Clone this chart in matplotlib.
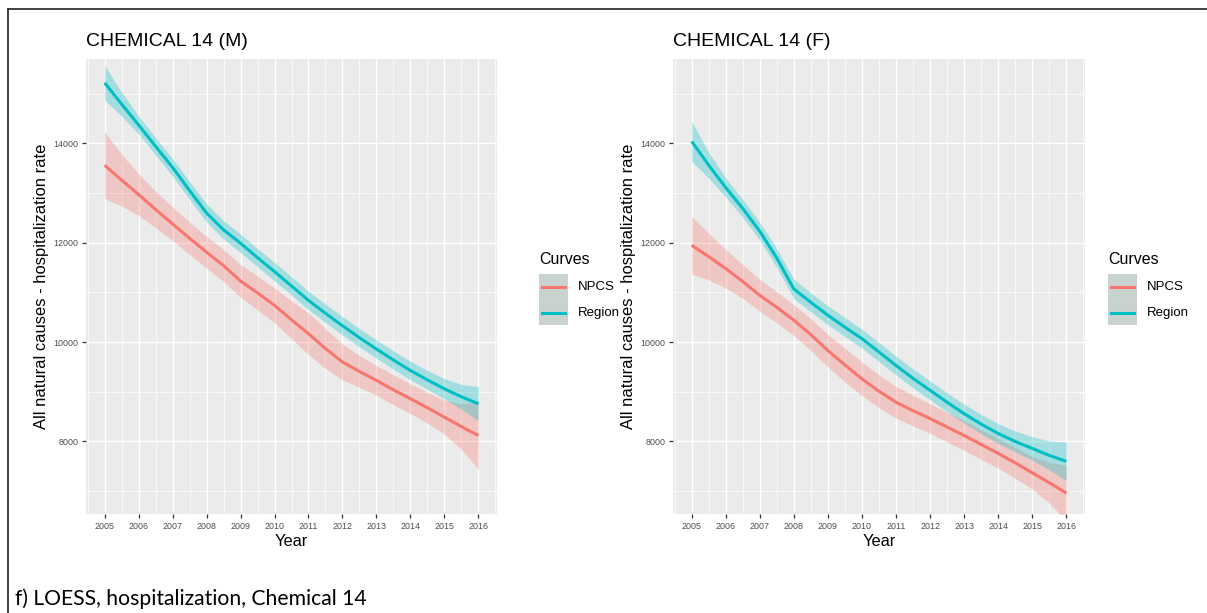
import numpy as np
import matplotlib
matplotlib.use('Agg')
import matplotlib.pyplot as plt
from matplotlib.patches import Rectangle
from matplotlib.lines import Line2D

plt.rcParams['font.family'] = ['Liberation Sans', 'DejaVu Sans']

# LOESS curves, half-year steps
years = [2005.0, 2005.5, 2006.0, 2006.5, 2007.0, 2007.5, 2008.0, 2008.5, 2009.0, 2009.5,
         2010.0, 2010.5, 2011.0, 2011.5, 2012.0, 2012.5, 2013.0, 2013.5, 2014.0, 2014.5,
         2015.0, 2015.5, 2016.0]
year_ticks = list(range(2005, 2017))

# males
m_region = [15220, 14790, 14370, 13940, 13515, 13050, 12600, 12260, 11990, 11700,
            11420, 11130, 10840, 10580, 10330, 10090, 9860, 9640, 9430, 9240,
            9060, 8900, 8760]
m_region_se = [350, 240, 180, 175, 175, 180, 185, 185, 185, 185,
               185, 185, 185, 185, 185, 185, 185, 185, 185, 190,
               205, 250, 340]
m_npcs = [13560, 13260, 12970, 12670, 12380, 12090, 11810, 11540, 11230, 10990,
          10740, 10450, 10170, 9870, 9600, 9410, 9230, 9040, 8860, 8680,
          8490, 8300, 8120]
m_npcs_se = [670, 520, 420, 370, 335, 325, 320, 320, 330, 340,
             350, 380, 420, 400, 360, 320, 300, 300, 300, 310,
             340, 460, 680]

# females
f_region = [14040, 13560, 13110, 12690, 12230, 11690, 11070, 10800, 10540, 10300,
            10070, 9800, 9530, 9270, 9030, 8790, 8560, 8350, 8160, 8000,
            7860, 7720, 7600]
f_region_se = [400, 260, 190, 180, 180, 190, 195, 190, 190, 190,
               190, 190, 190, 190, 190, 190, 190, 195, 200, 210,
               235, 290, 390]
f_npcs = [11950, 11720, 11480, 11220, 10940, 10700, 10440, 10150, 9830, 9540,
          9260, 9010, 8790, 8620, 8460, 8290, 8120, 7940, 7760, 7570,
          7370, 7170, 6960]
f_npcs_se = [580, 470, 390, 340, 320, 310, 310, 320, 330, 340,
             340, 330, 320, 310, 300, 300, 300, 300, 300, 310,
             330, 410, 560]

titles = ['CHEMICAL 14 (M)', 'CHEMICAL 14 (F)']
curve_names = ['NPCS', 'Region']
red = '#F8766D'
teal = '#00BFC4'

W, H = 1207, 613
fig = plt.figure(figsize=(W / 100, H / 100), dpi=100)


def fx(x):
    return x / W


def fy(y):
    return 1 - y / H


def panel(left_px, right_px, title, npcs, npcs_se, region, region_se):
    ax = fig.add_axes([fx(left_px), fy(514), (right_px - left_px) / W, (514 - 59) / H])
    ax.set_facecolor('#EBEBEB')
    for s in ax.spines.values():
        s.set_visible(False)
    x = np.array(years)
    for mid, se, col in [(npcs, npcs_se, red), (region, region_se, teal)]:
        mid = np.array(mid)
        se = np.array(se)
        ax.fill_between(x, mid - se, mid + se, color=col, alpha=0.3, lw=0, zorder=2)
    for mid, col in [(npcs, red), (region, teal)]:
        ax.plot(x, mid, color=col, lw=2.2, zorder=3, solid_capstyle='butt',
                solid_joinstyle='round')
    ax.set_xlim(2004.45, 2016.55)
    ax.set_ylim(6540, 15700)
    ax.set_xticks(year_ticks)
    ax.set_xticks([y + 0.5 for y in year_ticks[:-1]] + [2004.5, 2016.5], minor=True)
    ax.set_yticks([8000, 10000, 12000, 14000])
    ax.set_yticks([7000, 9000, 11000, 13000, 15000], minor=True)
    ax.grid(True, which='major', color='white', lw=1.0, zorder=0)
    ax.grid(True, which='minor', color='white', lw=0.5, zorder=0)
    ax.set_axisbelow(True)
    ax.tick_params(which='major', length=3, width=0.9, color='#333333',
                   labelsize=6.4, labelcolor='#4D4D4D', pad=2.5)
    ax.tick_params(which='minor', length=0)
    fig.text(fx(left_px), fy(42), title, fontsize=14, ha='left', va='center')
    fig.text(fx(left_px - 44), fy(286), 'All natural causes - hospitalization rate',
             fontsize=11.9, rotation=90, ha='center', va='center')
    fig.text(fx((left_px + right_px) / 2), fy(542), 'Year', fontsize=11.8,
             ha='center', va='center')
    return ax


def legend(x0):
    fig.text(fx(x0), fy(259), 'Curves', fontsize=11.5, ha='left', va='center')
    fig.add_artist(Rectangle((fx(x0), fy(325)), 29 / W, 51 / H, transform=fig.transFigure,
                             facecolor='#C8D2CE', edgecolor='none'))
    for name, col, yy in [(curve_names[0], red, 287), (curve_names[1], teal, 313)]:
        fig.add_artist(Line2D([fx(x0 + 3), fx(x0 + 26)], [fy(yy), fy(yy)],
                              transform=fig.transFigure, color=col, lw=2.2))
        fig.text(fx(x0 + 39), fy(yy), name, fontsize=9.5, ha='left', va='center')


panel(86, 497, titles[0], m_npcs, m_npcs_se, m_region, m_region_se)
panel(673, 1085, titles[1], f_npcs, f_npcs_se, f_region, f_region_se)
legend(539)
legend(1108)

# frame lines of the figure cell
fig.add_artist(Line2D([fx(8), 1], [fy(9), fy(9)], transform=fig.transFigure,
                      color='#333333', lw=1.3))
fig.add_artist(Line2D([fx(8), fx(8)], [fy(9), 0], transform=fig.transFigure,
                      color='#333333', lw=1.3))

fig.text(fx(15), fy(599), 'f) LOESS, hospitalization, Chemical 14',
         fontsize=15.2, family=['Lato', 'DejaVu Sans'], ha='left', va='center')

fig.savefig('out.png', dpi=100)
